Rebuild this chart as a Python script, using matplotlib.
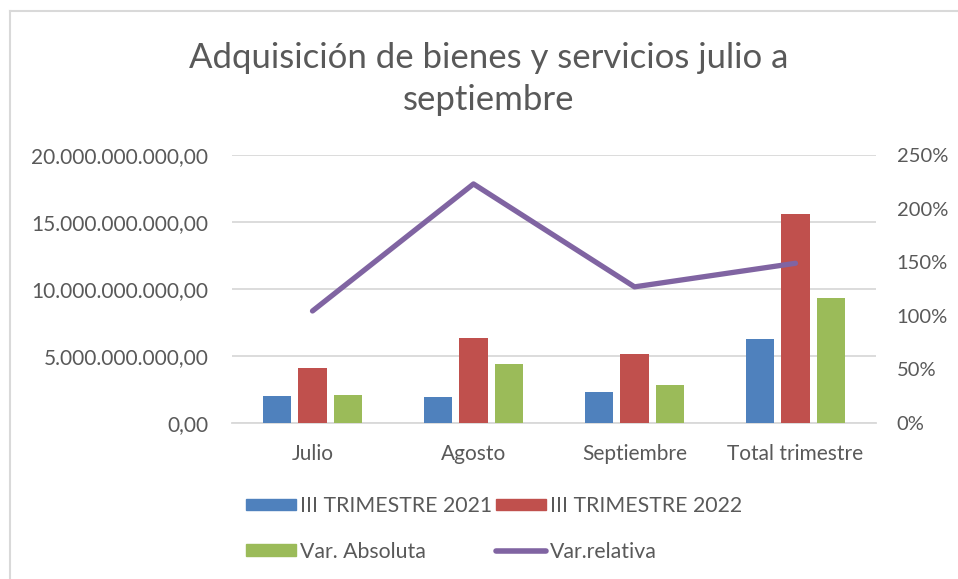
import numpy as np
import matplotlib.pyplot as plt
import matplotlib.ticker as mtick
from matplotlib.lines import Line2D
from matplotlib.patches import Patch

plt.rcParams["font.family"] = ["Lato", "DejaVu Sans"]

# ========= datos =========
categorias = ["Julio", "Agosto", "Septiembre", "Total trimestre"]
trim_2021 = [2.00e9, 1.95e9, 2.30e9, 6.25e9]
trim_2022 = [4.10e9, 6.35e9, 5.15e9, 15.60e9]
var_absoluta = [2.10e9, 4.40e9, 2.85e9, 9.35e9]
var_relativa = [1.045, 2.23, 1.27, 1.49]

C_2021 = "#4f81bd"
C_2022 = "#c0504d"
C_ABS = "#9bbb59"
C_REL = "#8064a2"
TXT = "#595959"
GRID = "#d9d9d9"


def fmt_es(v, pos=None):
    s = f"{v:,.2f}"
    return s.replace(",", "X").replace(".", ",").replace("X", ".")


fig = plt.figure(figsize=(9.58, 5.79), dpi=100)
ax = fig.add_axes([232 / 958, 1 - 423 / 579, (876 - 232) / 958, (423 - 155) / 579])

x = np.arange(len(categorias))
w = 0.175
off = 0.22
ax.bar(x - off, trim_2021, w, color=C_2021, zorder=3)
ax.bar(x, trim_2022, w, color=C_2022, zorder=3)
ax.bar(x + off, var_absoluta, w, color=C_ABS, zorder=3)

ax.set_xlim(-0.5, len(categorias) - 0.5)
ax.set_ylim(0, 20e9)
ax.yaxis.set_major_locator(mtick.MultipleLocator(5e9))
ax.yaxis.set_major_formatter(mtick.FuncFormatter(fmt_es))
ax.grid(axis="y", color=GRID, linewidth=1.3, zorder=0)
ax.set_xticks(x)
ax.set_xticklabels(categorias)
for s in ["top", "right", "left"]:
    ax.spines[s].set_visible(False)
ax.spines["bottom"].set_color(GRID)
ax.spines["bottom"].set_linewidth(1.3)
ax.tick_params(axis="both", length=0, colors=TXT, labelsize=15)
ax.tick_params(axis="y", pad=17)
ax.tick_params(axis="x", pad=15)

ax2 = ax.twinx()
ax2.plot(x, var_relativa, color=C_REL, linewidth=3.8, solid_capstyle="round", zorder=4)
ax2.set_ylim(0, 2.5)
ax2.yaxis.set_major_locator(mtick.MultipleLocator(0.5))
ax2.yaxis.set_major_formatter(mtick.PercentFormatter(xmax=1.0, decimals=0))
for s in ax2.spines.values():
    s.set_visible(False)
ax2.tick_params(axis="y", length=0, colors=TXT, labelsize=14.5, pad=15)

fig.text(0.51, 1 - 79 / 579, "Adquisición de bienes y servicios julio a\nseptiembre",
         ha="center", va="center", fontsize=25, color=TXT, linespacing=1.4)

# orden por columnas -> filas: 2021, 2022 / abs, rel
handles = [
    Patch(color=C_2021, label="III TRIMESTRE 2021"),
    Patch(color=C_ABS, label="Var. Absoluta"),
    Patch(color=C_2022, label="III TRIMESTRE 2022"),
    Line2D([], [], color=C_REL, linewidth=4, solid_capstyle="round", label="Var.relativa"),
]
leg = fig.legend(handles=handles, ncol=2, loc="center", bbox_to_anchor=(494 / 958, 1 - 529 / 579),
                 frameon=False, fontsize=15.3, handlelength=2.35, handleheight=0.45,
                 handletextpad=0.2, columnspacing=0.2, labelspacing=1.2)
for t in leg.get_texts():
    t.set_color(TXT)

# borde del gráfico
fig.add_artist(Line2D([10 / 958, 10 / 958], [0, 1 - 11 / 579], transform=fig.transFigure, color=GRID, linewidth=1.5))
fig.add_artist(Line2D([10 / 958, 1], [1 - 11 / 579, 1 - 11 / 579], transform=fig.transFigure, color=GRID, linewidth=1.5))

fig.savefig("out.png", dpi=100)
